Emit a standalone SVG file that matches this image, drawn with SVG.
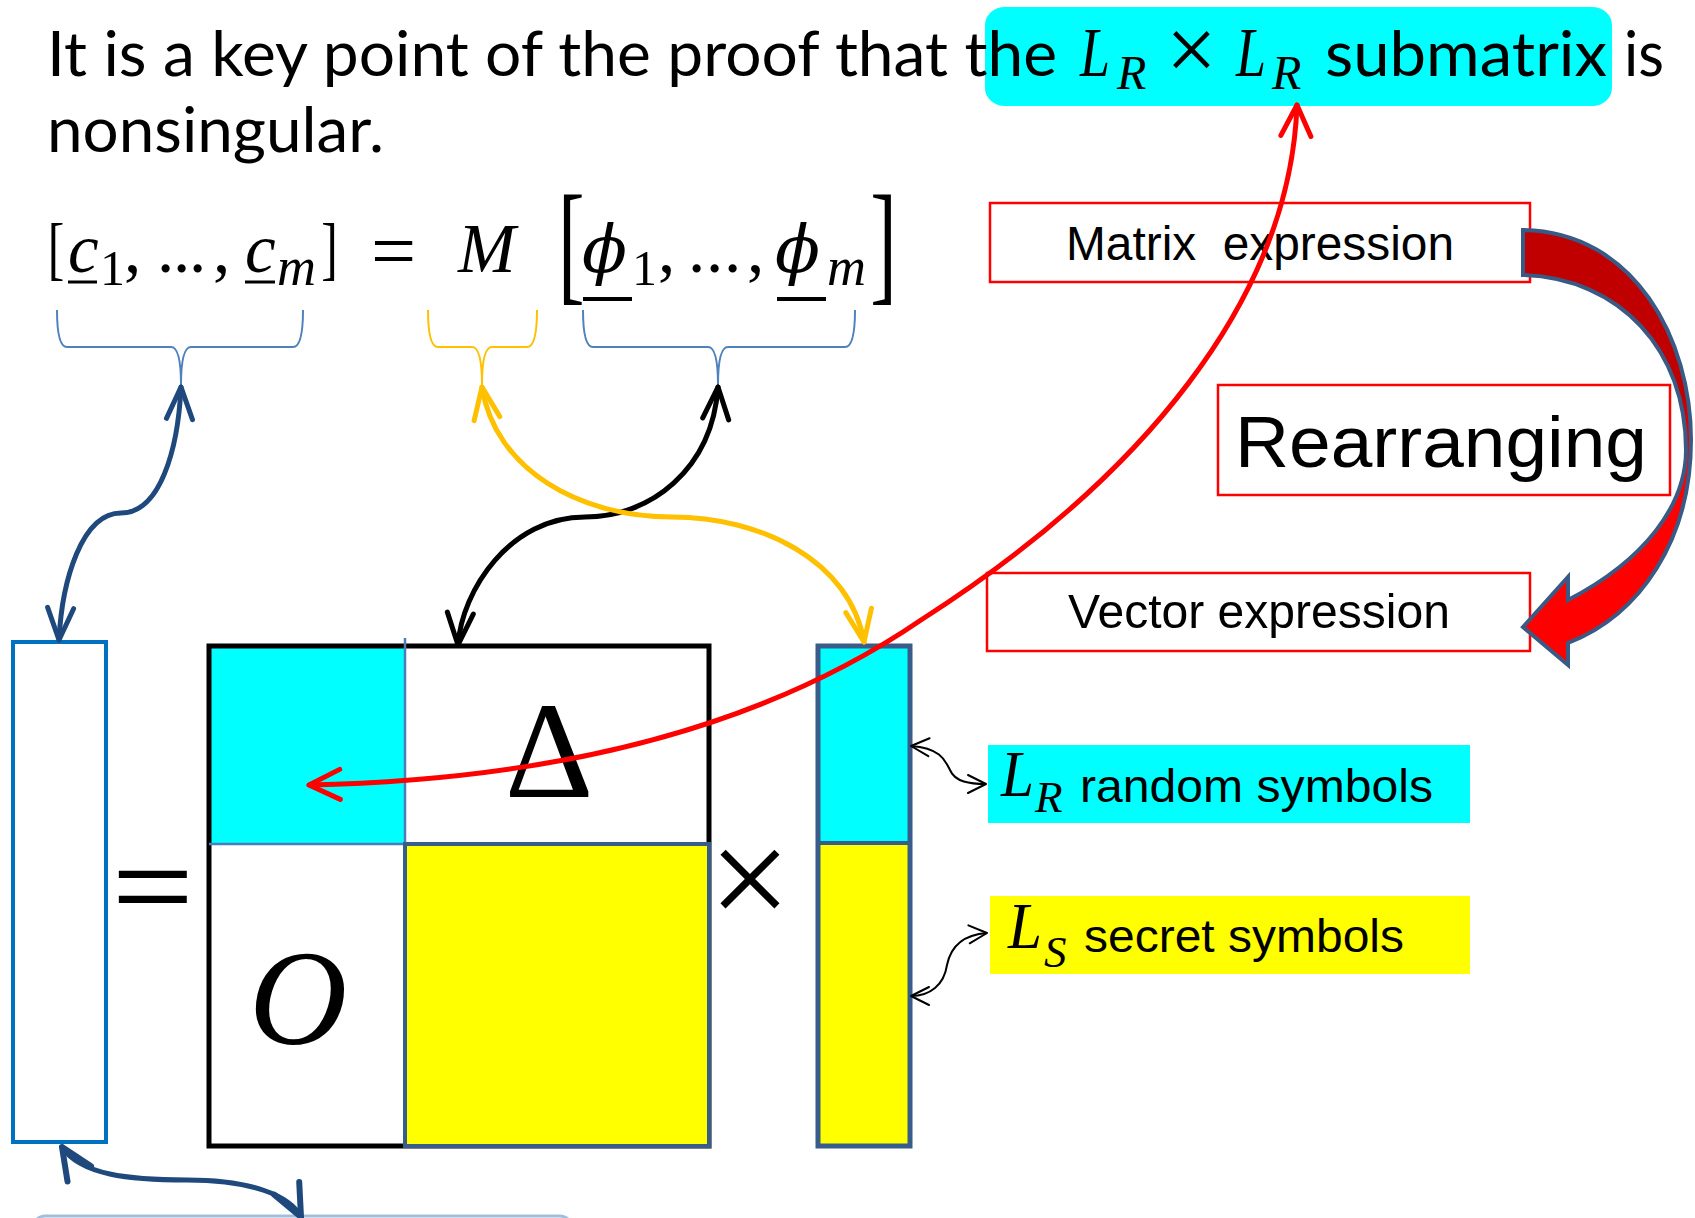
<svg xmlns="http://www.w3.org/2000/svg" width="1695" height="1218" viewBox="0 0 1695 1218">
<defs>
<style>
.cal{font-family:Lato,"Open Sans","Noto Sans",sans-serif;font-size:62px;fill:#000}
.ar{font-family:"Liberation Sans",Arial,sans-serif;fill:#000}
.m{font-family:"Liberation Serif","Times New Roman",serif;fill:#000}
.it{font-style:italic}
.phi{font-family:"DejaVu Serif","Liberation Serif",serif;font-style:italic}
.redbox{fill:#fff;stroke:#FF0000;stroke-width:2.5}
.brace{fill:none;stroke-width:2}
.conn{fill:none;stroke-width:5;stroke-linecap:round}
.ul{stroke:#000}
</style>
<linearGradient id="gArrow" gradientUnits="userSpaceOnUse" x1="0" y1="395" x2="0" y2="470">
<stop offset="0" stop-color="#C00000"/>
<stop offset="1" stop-color="#FF0000"/>
</linearGradient>
<marker id="hBlue" markerUnits="userSpaceOnUse" viewBox="-40 -20 50 40" refX="0" refY="0" markerWidth="50" markerHeight="40" orient="auto-start-reverse"><path d="M-32,-13 L0,0 L-32,13" fill="none" stroke="#1F497D" stroke-width="5" stroke-linecap="round" stroke-linejoin="round"/></marker>
<marker id="hBlue2" markerUnits="userSpaceOnUse" viewBox="-40 -20 50 40" refX="0" refY="0" markerWidth="50" markerHeight="40" orient="auto-start-reverse"><path d="M-32,-14 L0,0 L-32,14" fill="none" stroke="#1F497D" stroke-width="6" stroke-linecap="round" stroke-linejoin="round"/></marker>
<marker id="hBlack" markerUnits="userSpaceOnUse" viewBox="-40 -20 50 40" refX="0" refY="0" markerWidth="50" markerHeight="40" orient="auto-start-reverse"><path d="M-32,-13 L0,0 L-32,13" fill="none" stroke="#000" stroke-width="5" stroke-linecap="round" stroke-linejoin="round"/></marker>
<marker id="hYel" markerUnits="userSpaceOnUse" viewBox="-40 -20 50 40" refX="0" refY="0" markerWidth="50" markerHeight="40" orient="auto-start-reverse"><path d="M-32,-13 L0,0 L-32,13" fill="none" stroke="#FFC000" stroke-width="5" stroke-linecap="round" stroke-linejoin="round"/></marker>
<marker id="hRed" markerUnits="userSpaceOnUse" viewBox="-40 -20 50 40" refX="0" refY="0" markerWidth="50" markerHeight="40" orient="auto-start-reverse"><path d="M-31,-15 L0,0 L-31,15" fill="none" stroke="#FF0000" stroke-width="5" stroke-linecap="round" stroke-linejoin="round"/></marker>
<marker id="hSmall" markerUnits="userSpaceOnUse" viewBox="-25 -12 30 24" refX="0" refY="0" markerWidth="30" markerHeight="24" orient="auto-start-reverse"><path d="M-18,-9 L0,0 L-18,9" fill="none" stroke="#000" stroke-width="2" stroke-linecap="round" stroke-linejoin="round"/></marker>
</defs>

<rect width="1695" height="1218" fill="#fff"/>

<g id="title">
<rect x="985" y="7" width="627" height="99" rx="20" ry="18" fill="#00FFFF"/>
<text class="cal" x="47" y="76" textLength="1010" lengthAdjust="spacingAndGlyphs">It is a key point of the proof that the</text>
<text class="m it" x="1080" y="76" font-size="69" textLength="30" lengthAdjust="spacingAndGlyphs">L</text>
<text class="m it" x="1117" y="89" font-size="48">R</text>
<text class="m" x="1166" y="80" font-size="90">×</text>
<text class="m it" x="1236" y="76" font-size="69" textLength="30" lengthAdjust="spacingAndGlyphs">L</text>
<text class="m it" x="1272" y="89" font-size="48">R</text>
<text class="cal" x="1325" y="76" textLength="282" lengthAdjust="spacingAndGlyphs">submatrix</text>
<text class="cal" x="1624" y="76" textLength="40" lengthAdjust="spacingAndGlyphs">is</text>
<text class="cal" x="47" y="152" textLength="337" lengthAdjust="spacingAndGlyphs">nonsingular.</text>
</g>

<g id="equation">
<text class="m" font-size="69" transform="translate(52,272) scale(0.72,1)" x="-6">[</text>
<text class="m" font-size="69"><tspan class="it" x="68" y="272">c</tspan><tspan x="100" y="285" font-size="50">1</tspan><tspan x="124" y="272">,</tspan><tspan x="157 173 189" y="272">...</tspan><tspan x="213" y="272">,</tspan><tspan class="it" x="245" y="272">c</tspan><tspan class="it" x="277" y="285" font-size="54">m</tspan><tspan x="371" y="278" font-size="80">=</tspan><tspan class="it" x="458" y="272">M</tspan></text>
<line class="ul" x1="68" y1="282" x2="97" y2="282" stroke-width="3"/>
<line class="ul" x1="245" y1="282" x2="275" y2="282" stroke-width="3"/>
<text class="m" font-size="69" transform="translate(323,272) scale(0.72,1)" x="-2.3">]</text>
<text class="m" font-size="133" transform="translate(565,287) scale(0.6,1)" x="-11.7">[</text>
<text class="m" font-size="69"><tspan class="phi" x="582" y="272" font-size="66">ϕ</tspan><tspan x="632" y="285" font-size="50">1</tspan><tspan x="658" y="272">,</tspan><tspan x="688 706 724" y="272">...</tspan><tspan x="747" y="272">,</tspan><tspan class="phi" x="775" y="272" font-size="66">ϕ</tspan><tspan class="it" x="827" y="285" font-size="54">m</tspan></text>
<line class="ul" x1="583" y1="299" x2="632" y2="299" stroke-width="4"/>
<line class="ul" x1="777" y1="299" x2="826" y2="299" stroke-width="4"/>
<text class="m" font-size="133" transform="translate(873,287) scale(0.6,1)" x="-4.5">]</text>
</g>

<g id="braces">
<path class="brace" stroke="#4F81BD" d="M57,310 Q57,347 67,347 L171,347 Q181,347 181,385 Q181,347 191,347 L293,347 Q303,347 303,310"/>
<path class="brace" stroke="#FFC000" d="M428,310 Q428,347 438,347 L472,347 Q482,347 482,385 Q482,347 492,347 L527,347 Q537,347 537,310"/>
<path class="brace" stroke="#4F81BD" d="M583,310 Q583,347 593,347 L708,347 Q718,347 718,385 Q718,347 728,347 L845,347 Q855,347 855,310"/>
</g>

<g id="left-vector">
<rect x="13" y="642" width="93" height="500" fill="#fff" stroke="#0070C0" stroke-width="4"/>
</g>

<g id="equals">
<text class="ar" font-size="100" transform="translate(112,920) scale(1.4,1)">=</text>
</g>

<g id="matrix">
<rect x="209" y="646" width="500" height="500" fill="#fff"/>
<rect x="209" y="646" width="196" height="198" fill="#00FFFF"/>
<rect x="209" y="646" width="500" height="500" fill="none" stroke="#000" stroke-width="5"/>
<line x1="405" y1="638" x2="405" y2="1146" stroke="#4A7EBB" stroke-width="2.5"/>
<line x1="209" y1="844" x2="405" y2="844" stroke="#4A7EBB" stroke-width="2.5"/>
<rect x="405" y="844" width="304" height="302" fill="#FFFF00" stroke="#385D8A" stroke-width="4"/>
<text class="m" x="549" y="797" font-size="138" text-anchor="middle">Δ</text>
<text class="m it" x="298" y="1044" font-size="136" text-anchor="middle">O</text>
</g>

<g id="times">
<text class="m" x="709" y="927" font-size="145">×</text>
</g>

<g id="right-vector">
<rect x="818" y="646" width="92" height="197" fill="#00FFFF"/>
<rect x="818" y="843" width="92" height="303" fill="#FFFF00"/>
<line x1="818" y1="843" x2="910" y2="843" stroke="#385D8A" stroke-width="4"/>
<rect x="818" y="646" width="92" height="500" fill="none" stroke="#385D8A" stroke-width="5"/>
</g>

<g id="label-random">
<rect x="988" y="745" width="482" height="78" fill="#00FFFF"/>
<text class="m it" x="1001" y="796" font-size="66" textLength="33" lengthAdjust="spacingAndGlyphs">L</text>
<text class="m it" x="1035" y="812" font-size="45">R</text>
<text class="ar" x="1080" y="802" font-size="47" textLength="353" lengthAdjust="spacingAndGlyphs">random symbols</text>
</g>

<g id="label-secret">
<rect x="990" y="896" width="480" height="78" fill="#FFFF00"/>
<text class="m it" x="1008" y="948" font-size="66" textLength="34" lengthAdjust="spacingAndGlyphs">L</text>
<text class="m it" x="1044" y="967" font-size="45">S</text>
<text class="ar" x="1084" y="952" font-size="47" textLength="320" lengthAdjust="spacingAndGlyphs">secret symbols</text>
</g>

<g id="matrix-expression">
<rect class="redbox" x="990" y="203" width="540" height="79"/>
<text class="ar" x="1066" y="260" font-size="48" textLength="388" lengthAdjust="spacingAndGlyphs" xml:space="preserve">Matrix  expression</text>
</g>

<g id="rearranging">
<rect class="redbox" x="1218" y="385" width="452" height="110"/>
<text class="ar" x="1235" y="467" font-size="73" textLength="412" lengthAdjust="spacingAndGlyphs">Rearranging</text>
</g>

<g id="vector-expression">
<rect class="redbox" x="987" y="573" width="543" height="78"/>
<text class="ar" x="1068" y="628" font-size="48" textLength="382" lengthAdjust="spacingAndGlyphs">Vector expression</text>
</g>

<g id="rearrange-arrow">
<path d="M1523,230 C1635,232 1691,340 1691,440 C1691,540 1640,615 1568,643 L1568,665 L1523,627 L1568,577 L1568,600 C1645,560 1686,505 1686,450 C1686,350 1620,278 1523,275 Z" fill="url(#gArrow)" stroke="#3A5A86" stroke-width="4" stroke-linejoin="miter"/>
</g>

<g id="bottom-shape">
<rect x="33" y="1216" width="539" height="40" rx="12" fill="none" stroke="#A3BDDD" stroke-width="3"/>
</g>

<g id="connectors">
<path class="conn" stroke="#1F497D" d="M181,387 C178,450 160,513 121,513 C82,513 62,580 59,640" marker-start="url(#hBlue)" marker-end="url(#hBlue)"/>
<path class="conn" stroke="#000" d="M718,387 C712,470 650,517 585,517 C510,517 462,590 458,645" marker-start="url(#hBlack)" marker-end="url(#hBlack)"/>
<path class="conn" stroke="#FFC000" d="M482,387 C495,470 580,517 672,517 C760,517 850,560 864,642" marker-start="url(#hYel)" marker-end="url(#hYel)"/>
<path class="conn" stroke="#FF0000" d="M1297,105 C1290,300 1140,480 921,620 C760,730 550,780 309,785" marker-start="url(#hRed)" marker-end="url(#hRed)"/>
<path class="conn" stroke="#1F497D" stroke-width="7" d="M62,1147 C80,1175 130,1180 187,1180 C250,1180 290,1195 301,1217" marker-start="url(#hBlue2)" marker-end="url(#hBlue2)"/>
<path fill="none" stroke="#000" stroke-width="2" d="M911,746 C940,748 945,760 950,770 C955,782 970,784 986,784" marker-start="url(#hSmall)" marker-end="url(#hSmall)"/>
<path fill="none" stroke="#000" stroke-width="2" d="M987,933 C960,935 950,950 947,965 C944,985 930,996 911,996" marker-start="url(#hSmall)" marker-end="url(#hSmall)"/>
</g>
</svg>
